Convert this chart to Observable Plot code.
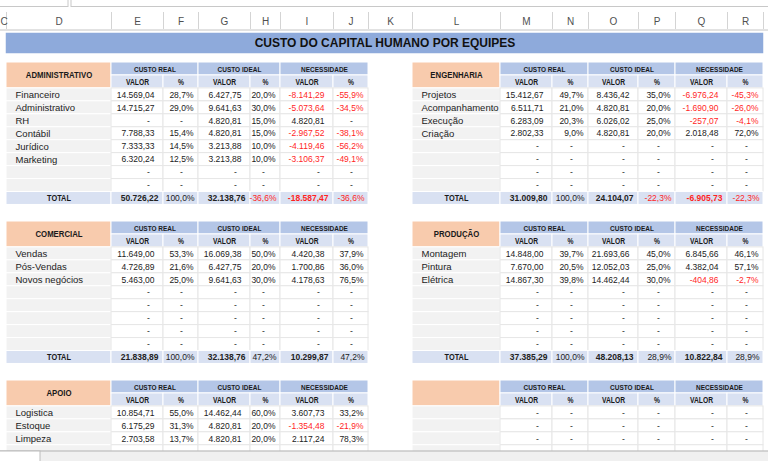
<!DOCTYPE html>
<html><head><meta charset="utf-8">
<script src="https://cdn.jsdelivr.net/npm/d3@7"></script>
<script src="https://cdn.jsdelivr.net/npm/@observablehq/plot@0.6"></script>
<style>html,body{margin:0;padding:0;background:#fff;overflow:hidden}</style>
</head><body><div id="chart"></div>
<script>
// ---------- DATA ----------
const title = "CUSTO DO CAPITAL HUMANO POR EQUIPES";
const columnLetters = ["C","D","E","F","G","H","I","J","K","L","M","N","O","P","Q","R"];
const groupHeaders = ["CUSTO REAL","CUSTO IDEAL","NECESSIDADE"];
const subHeaders = ["VALOR","%","VALOR","%","VALOR","%"];
const totalLabel = "TOTAL";
const teams = ["ADMINISTRATIVO","ENGENHARIA","COMERCIAL","PRODUÇÃO","APOIO",""];

const admLabels   = ["Financeiro","Administrativo","RH","Contábil","Jurídico","Marketing","",""];
const admReal     = [14569.04, 14715.27, null, 7788.33, 7333.33, 6320.24, null, null];
const admRealPct  = [28.7, 29.0, null, 15.4, 14.5, 12.5, null, null];
const admIdeal    = [6427.75, 9641.63, 4820.81, 4820.81, 3213.88, 3213.88, null, null];
const admIdealPct = [20.0, 30.0, 15.0, 15.0, 10.0, 10.0, null, null];
const admNec      = [-8141.29, -5073.64, 4820.81, -2967.52, -4119.46, -3106.37, null, null];
const admNecPct   = [-55.9, -34.5, null, -38.1, -56.2, -49.1, null, null];
const admTotal    = [50726.22, 100.0, 32138.76, -36.6, -18587.47, -36.6];

const engLabels   = ["Projetos","Acompanhamento","Execução","Criação","","","",""];
const engReal     = [15412.67, 6511.71, 6283.09, 2802.33, null, null, null, null];
const engRealPct  = [49.7, 21.0, 20.3, 9.0, null, null, null, null];
const engIdeal    = [8436.42, 4820.81, 6026.02, 4820.81, null, null, null, null];
const engIdealPct = [35.0, 20.0, 25.0, 20.0, null, null, null, null];
const engNec      = [-6976.24, -1690.90, -257.07, 2018.48, null, null, null, null];
const engNecPct   = [-45.3, -26.0, -4.1, 72.0, null, null, null, null];
const engTotal    = [31009.80, 100.0, 24104.07, -22.3, -6905.73, -22.3];

const comLabels   = ["Vendas","Pós-Vendas","Novos negócios","","","","",""];
const comReal     = [11649.00, 4726.89, 5463.00, null, null, null, null, null];
const comRealPct  = [53.3, 21.6, 25.0, null, null, null, null, null];
const comIdeal    = [16069.38, 6427.75, 9641.63, null, null, null, null, null];
const comIdealPct = [50.0, 20.0, 30.0, null, null, null, null, null];
const comNec      = [4420.38, 1700.86, 4178.63, null, null, null, null, null];
const comNecPct   = [37.9, 36.0, 76.5, null, null, null, null, null];
const comTotal    = [21838.89, 100.0, 32138.76, 47.2, 10299.87, 47.2];

const proLabels   = ["Montagem","Pintura","Elétrica","","","","",""];
const proReal     = [14848.00, 7670.00, 14867.30, null, null, null, null, null];
const proRealPct  = [39.7, 20.5, 39.8, null, null, null, null, null];
const proIdeal    = [21693.66, 12052.03, 14462.44, null, null, null, null, null];
const proIdealPct = [45.0, 25.0, 30.0, null, null, null, null, null];
const proNec      = [6845.66, 4382.04, -404.86, null, null, null, null, null];
const proNecPct   = [46.1, 57.1, -2.7, null, null, null, null, null];
const proTotal    = [37385.29, 100.0, 48208.13, 28.9, 10822.84, 28.9];

const apoLabels   = ["Logistica","Estoque","Limpeza","","","","",""];
const apoReal     = [10854.71, 6175.29, 2703.58, null, null, null, null, null];
const apoRealPct  = [55.0, 31.3, 13.7, null, null, null, null, null];
const apoIdeal    = [14462.44, 4820.81, 4820.81, null, null, null, null, null];
const apoIdealPct = [60.0, 20.0, 20.0, null, null, null, null, null];
const apoNec      = [3607.73, -1354.48, 2117.24, null, null, null, null, null];
const apoNecPct   = [33.2, -21.9, 78.3, null, null, null, null, null];

const blkLabels   = ["","","","","","","",""];
const blkEmpty    = [null, null, null, null, null, null, null, null];

// ---------- LAYOUT ----------
const W = 768, H = 461;
const leftCols  = [6, 111, 163, 198, 250, 280, 333, 368];
const rightCols = [412, 500, 552, 588, 638, 675, 727, 763];
const letterEdges = [-4, 6, 111, 163, 198, 250, 280, 333, 368, 412, 500, 552, 588, 638, 675, 727, 763];
const tableTops = [62, 221, 380];
const rowH = 12.95;
const sheetBottom = 451;

const C = {
  title: "#8eaadb", orange: "#f8cbad", group: "#b4c6e7", sub: "#d9e1f2",
  total: "#d9e1f2", label: "#f2f2f2", grid: "#e6e6e6", text: "#222222", red: "#ff1f1f"
};

const loc = d3.formatLocale({decimal: ",", thousands: ".", grouping: [3], currency: ["R$", ""], minus: "-"});
const fVal = loc.format(",.2f");
const fPct = v => loc.format(".1f")(v) + "%";

const tables = [
  {name: teams[0], cols: leftCols,  top: tableTops[0], labels: admLabels, series: [admReal, admRealPct, admIdeal, admIdealPct, admNec, admNecPct], total: admTotal},
  {name: teams[1], cols: rightCols, top: tableTops[0], labels: engLabels, series: [engReal, engRealPct, engIdeal, engIdealPct, engNec, engNecPct], total: engTotal},
  {name: teams[2], cols: leftCols,  top: tableTops[1], labels: comLabels, series: [comReal, comRealPct, comIdeal, comIdealPct, comNec, comNecPct], total: comTotal},
  {name: teams[3], cols: rightCols, top: tableTops[1], labels: proLabels, series: [proReal, proRealPct, proIdeal, proIdealPct, proNec, proNecPct], total: proTotal},
  {name: teams[4], cols: leftCols,  top: tableTops[2], labels: apoLabels, series: [apoReal, apoRealPct, apoIdeal, apoIdealPct, apoNec, apoNecPct], total: null},
  {name: teams[5], cols: rightCols, top: tableTops[2], labels: blkLabels, series: [blkEmpty, blkEmpty, blkEmpty, blkEmpty, blkEmpty, blkEmpty], total: null}
];

const cells = [], texts = [], overlay = [];
const SANS = "Liberation Sans, Arial, sans-serif";
const NARROW = "'Liberation Sans', Arial, sans-serif";
const NARROW_SCALE = 0.82;

// formula bar & column headers
cells.push({x1: -1, x2: 68, y1: -1, y2: 6.5, fill: "#ffffff", stroke: "#c8c8c8", sw: 1});
cells.push({x1: 71, x2: W + 1, y1: -1, y2: 6.5, fill: "#ffffff", stroke: "#c8c8c8", sw: 1});
columnLetters.forEach((L, i) => {
  texts.push({x: Math.max(3.5, (letterEdges[i] + letterEdges[i + 1]) / 2), y: 21, text: L, fill: "#505050", size: 10, anchor: "middle", weight: "normal", family: SANS});
});
// title bar
cells.push({x1: 6, x2: 763, y1: 33, y2: 53, fill: C.title, stroke: C.title, sw: 0.5});
texts.push({x: (6 + 763) / 2, y: 43, text: title, fill: "#111", size: 12, anchor: "middle", weight: "bold", family: SANS});

for (const t of tables) {
  const c = t.cols, y0 = t.top;
  cells.push({x1: c[0], x2: c[1], y1: y0, y2: y0 + 2 * rowH, fill: C.orange, stroke: "#fff", sw: 1});
  if (t.name) texts.push({x: (c[0] + c[1]) / 2, y: y0 + rowH, text: t.name, fill: "#1a1a1a", size: 9.5, anchor: "middle", weight: "bold", family: NARROW});
  groupHeaders.forEach((g, k) => {
    cells.push({x1: c[1 + 2 * k], x2: c[3 + 2 * k], y1: y0, y2: y0 + rowH, fill: C.group, stroke: "#fff", sw: 1});
    texts.push({x: (c[1 + 2 * k] + c[3 + 2 * k]) / 2, y: y0 + rowH / 2, text: g, fill: "#1a1a1a", size: 7.9, anchor: "middle", weight: "bold", family: NARROW});
  });
  subHeaders.forEach((s, j) => {
    cells.push({x1: c[1 + j], x2: c[2 + j], y1: y0 + rowH, y2: y0 + 2 * rowH, fill: C.sub, stroke: "#fff", sw: 1});
    texts.push({x: (c[1 + j] + c[2 + j]) / 2, y: y0 + 1.5 * rowH, text: s, fill: "#1a1a1a", size: 8.2, anchor: "middle", weight: "bold", family: NARROW});
  });
  t.labels.forEach((lab, i) => {
    const ya = y0 + (2 + i) * rowH, yb = ya + rowH, ym = ya + rowH / 2;
    if (ya >= sheetBottom) return;
    const showText = ym < sheetBottom - 4;
    cells.push({x1: c[0], x2: c[1], y1: ya, y2: yb, fill: C.label, stroke: "#fff", sw: 1});
    if (lab && showText) texts.push({x: c[0] + 9, y: ym, text: lab, fill: C.text, size: 9.5, anchor: "start", weight: "normal", family: SANS});
    t.series.forEach((arr, j) => {
      const xa = c[1 + j], xb = c[2 + j];
      cells.push({x1: xa, x2: xb, y1: ya, y2: yb, fill: "#ffffff", stroke: C.grid, sw: 1});
      if (!showText) return;
      const v = arr[i], isPct = j % 2 === 1;
      if (v == null) {
        texts.push({x: xb - (isPct ? 17 : 15), y: ym, text: "-", fill: C.text, size: 8.5, anchor: "middle", weight: "normal", family: SANS});
      } else {
        texts.push({x: xb - (isPct ? 5 : 9), y: ym, text: isPct ? fPct(v) : fVal(v), fill: v < 0 ? C.red : C.text, size: 8.5, anchor: "end", weight: "normal", family: SANS});
      }
    });
  });
  const ya = y0 + 10 * rowH, yb = ya + rowH, ym = ya + rowH / 2;
  if (ya < sheetBottom) {
    cells.push({x1: c[0], x2: c[1], y1: ya, y2: yb, fill: C.total, stroke: "#fff", sw: 1});
    texts.push({x: (c[0] + c[1]) / 2, y: ym, text: totalLabel, fill: "#1a1a1a", size: 9, anchor: "middle", weight: "bold", family: NARROW});
    for (let j = 0; j < 6; j++) {
      const xa = c[1 + j], xb = c[2 + j];
      cells.push({x1: xa, x2: xb, y1: ya, y2: yb, fill: C.total, stroke: "#fff", sw: 1});
      if (t.total) {
        const v = t.total[j], isPct = j % 2 === 1;
        texts.push({x: xb - (isPct ? 4 : 5), y: ym, text: isPct ? fPct(v) : fVal(v), fill: v < 0 ? C.red : C.text, size: 8.5, anchor: "end", weight: isPct ? "normal" : "bold", family: SANS});
      }
    }
  }
}

// sheet tab bar (on top)
overlay.push({x1: -1, x2: W + 1, y1: sheetBottom, y2: H + 2, fill: "#f0f0f0", stroke: "#bcbcbc", sw: 1.2});
overlay.push({x1: -1, x2: 40, y1: sheetBottom, y2: H + 2, fill: "#ffffff", stroke: "#bcbcbc", sw: 1});

const combos = d3.groups(texts, d => d.anchor + "|" + d.weight + "|" + d.family);
const textMarks = combos.map(([key, arr]) => Plot.text(arr, {
  x: "x", y: "y", text: "text", fill: "fill", fontSize: d => d.size,
  textAnchor: arr[0].anchor, fontWeight: arr[0].weight, fontFamily: arr[0].family
}));

const chart = Plot.plot({
  width: W, height: H, margin: 0,
  x: {type: "linear", domain: [0, W], range: [0, W], axis: null},
  y: {type: "linear", domain: [0, H], range: [0, H], axis: null},
  color: {type: "identity"},
  style: {background: "#ffffff"},
  marks: [
    Plot.rect(cells, {x1: "x1", x2: "x2", y1: "y1", y2: "y2", fill: "fill", stroke: "stroke", strokeWidth: "sw"}),
    Plot.ruleX(letterEdges.slice(1), {y1: 12, y2: 29, stroke: "#d4d4d4"}),
    Plot.ruleY([29.5], {stroke: "#c4c4c4"}),
    ...textMarks,
    Plot.rect(overlay, {x1: "x1", x2: "x2", y1: "y1", y2: "y2", fill: "fill", stroke: "stroke", strokeWidth: "sw"})
  ]
});
// condense the Calibri-like header labels horizontally
chart.querySelectorAll("g").forEach(g => {
  if (g.getAttribute("font-family") === NARROW) {
    g.querySelectorAll("text").forEach(t => {
      const tr = t.getAttribute("transform");
      if (tr) t.setAttribute("transform", tr + ` scale(${NARROW_SCALE},1)`);
    });
  }
});
document.getElementById("chart").appendChild(chart);
</script>
</body></html>
